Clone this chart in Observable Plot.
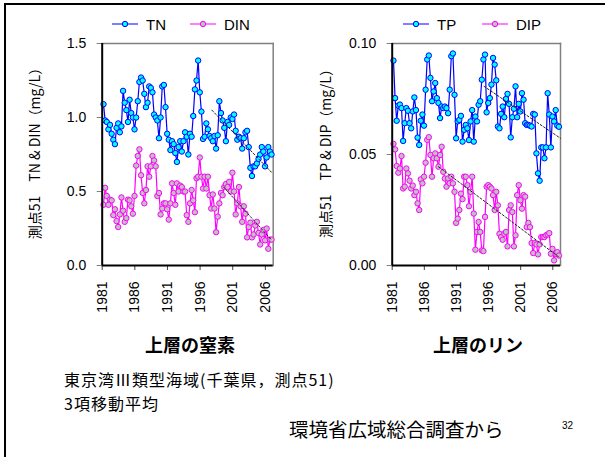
<!DOCTYPE html>
<html><head><meta charset="utf-8">
<script src="https://cdn.jsdelivr.net/npm/d3@7"></script>
<script src="https://cdn.jsdelivr.net/npm/@observablehq/plot@0.6"></script>
<style>
body{margin:0;background:#fff;}
#page{position:relative;width:605px;height:457px;overflow:hidden;background:#fff;font-family:"Liberation Sans",Arial,sans-serif;color:#000;}
#page .layer{position:absolute;left:0;top:0;}
.t{position:absolute;white-space:nowrap;line-height:1;}
.jp{font-family:"Noto Sans CJK JP","Liberation Sans",sans-serif;}
.rot{transform:translate(-50%,-50%) rotate(-90deg);}
.leg{position:absolute;display:flex;align-items:center;font-size:15px;}
</style></head><body><div id="page"></div>
<script>
// ---- data (quarterly, 3-term moving average) ----
const startYear = 1981.2;
const tn = [1.09,0.98,0.97,0.92,0.95,0.89,0.85,0.82,0.93,0.96,
0.90,0.94,1.18,1.10,1.05,0.97,1.12,1.03,1.00,0.92,
1.00,1.11,1.24,1.27,1.25,1.16,1.07,1.10,1.21,1.20,
1.17,1.02,1.00,0.98,0.86,1.00,1.21,1.22,1.07,0.89,
0.85,0.78,0.84,0.82,0.76,0.70,0.80,0.84,0.77,0.84,
0.90,0.87,0.75,0.89,0.87,1.01,1.19,1.25,1.385,1.17,
1.04,0.855,0.87,0.96,0.92,0.875,0.86,0.84,0.875,0.79,
0.88,1.11,1.03,0.98,0.93,0.84,0.97,0.95,1.00,0.99,
1.02,0.91,0.85,0.87,0.86,0.79,0.86,0.90,0.91,0.80,
0.66,0.605,0.67,0.67,0.69,0.72,0.75,0.80,0.77,0.67,
0.73,0.80,0.77,0.75];
const din = [0.41,0.525,0.47,0.41,0.445,0.44,0.34,0.38,0.30,0.26,
0.345,0.46,0.37,0.295,0.32,0.445,0.44,0.40,0.35,0.47,
0.675,0.74,0.785,0.61,0.49,0.42,0.51,0.67,0.60,0.67,
0.74,0.71,0.67,0.47,0.49,0.345,0.385,0.42,0.42,0.38,
0.31,0.42,0.555,0.49,0.41,0.555,0.50,0.54,0.53,0.50,
0.50,0.34,0.295,0.42,0.51,0.44,0.36,0.59,0.60,0.73,
0.60,0.52,0.60,0.52,0.60,0.475,0.385,0.48,0.385,0.225,
0.33,0.42,0.49,0.475,0.53,0.55,0.53,0.565,0.50,0.627,
0.50,0.345,0.42,0.53,0.40,0.295,0.40,0.35,0.19,0.26,
0.29,0.19,0.21,0.27,0.295,0.22,0.142,0.21,0.24,0.17,
0.25,0.113,0.175,0.175];
const tp = [0.0923,0.0754,0.0652,0.072,0.0725,0.0709,0.0561,0.0641,0.0709,0.0697,
0.0641,0.0618,0.0694,0.0757,0.070,0.0576,0.0543,0.0652,0.068,0.063,
0.0792,0.0928,0.0946,0.0845,0.074,0.0784,0.0822,0.0754,0.0732,0.0664,
0.0716,0.0709,0.0716,0.0709,0.0686,0.0792,0.0943,0.0955,0.0769,0.0573,
0.0649,0.0656,0.0674,0.0558,0.0611,0.0633,0.0618,0.0565,0.0649,0.070,
0.0558,0.0671,0.0649,0.0724,0.074,0.0837,0.0928,0.095,0.069,0.0732,
0.0754,0.0815,0.0935,0.0905,0.0834,0.0626,0.0618,0.0683,0.0716,0.0668,
0.075,0.0773,0.0728,0.0577,0.0668,0.0706,0.0807,0.0668,0.0728,0.0694,
0.0776,0.0747,0.0641,0.0633,0.0633,0.063,0.0626,0.0683,0.068,0.0505,
0.0415,0.0382,0.0532,0.0532,0.0483,0.0532,0.0776,0.068,0.0532,0.0671,
0.0649,0.07,0.063,0.0625];
const dip = [0.0548,0.0523,0.0448,0.0418,0.0437,0.0493,0.0347,0.0355,0.0437,0.0415,
0.0382,0.0347,0.036,0.0317,0.0332,0.028,0.025,0.0388,0.037,0.04,
0.0463,0.0566,0.0578,0.0498,0.04,0.0483,0.0505,0.0483,0.0445,0.0498,
0.0535,0.0422,0.0392,0.0355,0.0392,0.037,0.04,0.037,0.0332,0.0192,
0.0211,0.025,0.0324,0.0299,0.04,0.04,0.0362,0.0267,0.0332,0.04,
0.0234,0.0071,0.0151,0.0196,0.0151,0.0068,0.0065,0.0219,0.0355,0.0362,
0.0355,0.0347,0.0317,0.025,0.0332,0.0271,0.0143,0.0128,0.0116,0.0143,
0.0151,0.0086,0.025,0.0271,0.0241,0.0086,0.0136,0.0317,0.0362,0.0294,
0.0256,0.0317,0.031,0.0173,0.0192,0.0173,0.0101,0.0056,0.0101,0.0095,
0.005,0.0095,0.0128,0.0128,0.0128,0.0136,0.014,0.0146,0.0053,0.0075,
0.0023,0.0053,0.006,0.0045];
// dashed trend lines (year, value)
const tnTrendYears = [1997.8, 2007.0], tnTrend = [1.05, 0.627];
const dinTrendYears = [1999.6, 2007.0], dinTrend = [0.53, 0.17];
const tpTrendYears = [1995.3, 2007.2], tpTrend = [0.0807, 0.0573];
const dipTrendYears = [1988.2, 2006.95], dipTrend = [0.0445, 0.0038];
// ticks
const xTicks = [1981, 1986, 1991, 1996, 2001, 2006];
const yTicksN = [0, 0.5, 1.0, 1.5];
const yTicksP = [0, 0.05, 0.10];

const toRows = (arr) => arr.map((v, i) => ({t: startYear + i * 0.25, v}));
const toTrend = (ys, vs) => ys.map((t, i) => ({t, v: vs[i]}));

const C = {
  lineA: "#0000ff", fillA: "#00ffff",
  lineB: "#ff00ff", fillB: "#c0c0c0"
};

function panel({a, b, ta, tb, yDomain, yTicks, digits, mL, mR}) {
  const A = toRows(a), B = toRows(b);
  return Plot.plot({
    width: 605, height: 457,
    marginLeft: mL, marginRight: mR, marginTop: 43, marginBottom: 192,
    x: {domain: [1981, 2007.2]},
    y: {domain: yDomain},
    style: {background: "transparent", fontFamily: "'Liberation Sans', Arial, sans-serif", fontSize: "14px", color: "#000", overflow: "visible"},
    marks: [
      Plot.frame({anchor: "top", stroke: "#808080", strokeWidth: 1.5}),
      Plot.frame({anchor: "right", stroke: "#808080", strokeWidth: 1.5}),
      Plot.axisX({ticks: xTicks, tickFormat: d => String(d), tickRotate: -90, tickSize: 5, tickPadding: 11, stroke: "#444", fill: "#000", label: null}),
      Plot.axisY({ticks: yTicks, tickFormat: d => d.toFixed(digits), tickSize: 5, tickPadding: 11, stroke: "#808080", fill: "#000", label: null}),
      Plot.line(A, {x: "t", y: "v", stroke: C.lineA, strokeWidth: 1.2}),
      Plot.dot(A, {x: "t", y: "v", r: 2.7, fill: C.fillA, stroke: C.lineA, strokeWidth: 1}),
      Plot.line(B, {x: "t", y: "v", stroke: C.lineB, strokeWidth: 1.2}),
      Plot.dot(B, {x: "t", y: "v", r: 2.7, fill: C.fillB, stroke: C.lineB, strokeWidth: 1}),
      Plot.line(toTrend(...ta), {x: "t", y: "v", stroke: "#222", strokeWidth: 1, strokeDasharray: "2,2"}),
      Plot.line(toTrend(...tb), {x: "t", y: "v", stroke: "#222", strokeWidth: 1, strokeDasharray: "2,2"}),
      Plot.ruleX([1981], {stroke: "#000", strokeWidth: 2}),
      Plot.ruleY([0], {stroke: "#000", strokeWidth: 2})
    ]
  });
}

const page = document.getElementById("page");
const left = panel({a: tn, b: din, ta: [tnTrendYears, tnTrend], tb: [dinTrendYears, dinTrend], yDomain: [0, 1.5], yTicks: yTicksN, digits: 1, mL: 101.7, mR: 605 - 272.7});
const right = panel({a: tp, b: dip, ta: [tpTrendYears, tpTrend], tb: [dipTrendYears, dipTrend], yDomain: [0, 0.10], yTicks: yTicksP, digits: 2, mL: 391.7, mR: 605 - 560});
left.classList.add("layer"); right.classList.add("layer");
left.style.position = "absolute"; right.style.position = "absolute";
page.appendChild(left); page.appendChild(right);

// slide frame
const frame = document.createElement("div");
frame.style.cssText = "position:absolute;left:4px;top:3px;width:620px;height:470px;border-left:2px solid #000;border-top:2px solid #000;";
page.appendChild(frame);

function addText(html, css, cls) {
  const d = document.createElement("div");
  d.className = "t " + (cls || "");
  d.innerHTML = html;
  d.style.cssText = css;
  page.appendChild(d);
  return d;
}
// legends
function legend(x, y, stroke, fill, lineColor, label) {
  const d = document.createElement("div");
  d.className = "leg";
  d.style.left = x + "px"; d.style.top = (y - 10) + "px"; d.style.height = "20px";
  d.innerHTML = `<svg width="30" height="20" style="display:block"><line x1="2" y1="10" x2="28" y2="10" stroke="${lineColor}" stroke-width="2"/><circle cx="15" cy="10" r="2.7" fill="${fill}" stroke="${stroke}" stroke-width="1"/></svg><span style="margin-left:6px;font-size:15px">${label}</span>`;
  page.appendChild(d);
}
legend(110, 24, C.lineA, C.fillA, "#7f7fff", "TN");
legend(188, 24, C.lineB, C.fillB, "#ff80ff", "DIN");
legend(401, 24, C.lineA, C.fillA, "#7f7fff", "TP");
legend(480, 24, C.lineB, C.fillB, "#ff80ff", "DIP");

// axis titles
addText("測点51　TN &amp; DIN（mg/L）", "left:34px;top:150px;font-size:14px;", "jp rot");
addText("測点51　TP &amp; DIP（mg/L）", "left:325px;top:150px;font-size:14px;", "jp rot");
// panel titles
addText("上層の窒素", "left:190px;top:344px;transform:translate(-50%,-50%);font-size:18px;font-weight:bold;", "jp");
addText("上層のリン", "left:478px;top:344px;transform:translate(-50%,-50%);font-size:18px;font-weight:bold;", "jp");
// notes
addText("東京湾Ⅲ類型海域(千葉県，測点51)", "left:64px;top:368px;font-size:16px;letter-spacing:1px;line-height:23.5px;", "jp");
addText("3項移動平均", "left:64px;top:391.5px;font-size:16px;letter-spacing:1px;line-height:23.5px;", "jp");
addText("環境省広域総合調査から", "left:289px;top:419px;font-size:19.5px;", "jp");
addText("32", "left:562px;top:421px;font-size:10px;", "");
</script>
</body></html>
